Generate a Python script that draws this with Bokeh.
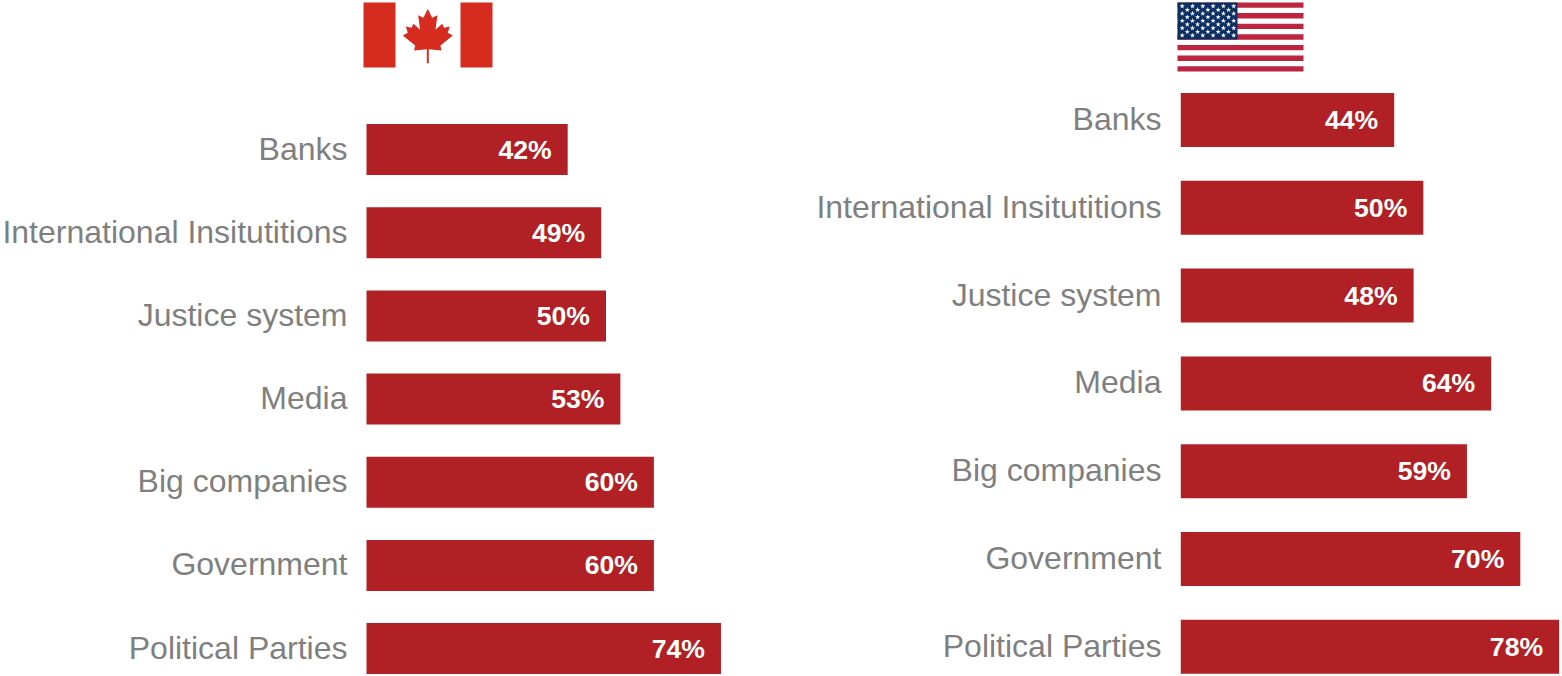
from bokeh.plotting import figure
from bokeh.layouts import row
from bokeh.models import Range1d, FixedTicker
from bokeh.core.properties import value
from bokeh.embed import file_html
from bokeh.resources import INLINE

categories = ["Banks", "International Insitutitions", "Justice system", "Media",
              "Big companies", "Government", "Political Parties"]
canada_values = [42, 49, 50, 53, 60, 60, 74]
usa_values = [44, 50, 48, 64, 59, 70, 78]

BAR = "#b02025"
GREY = "#7f7f7f"
FONT = "Liberation Sans"
PAGE_H = 676


def panel(values, fig_left, width, frame_left, zero_px, px_per_pct, first_cy, spacing, bar_px):
    x_start = (frame_left - zero_px) / px_per_pct
    x_end = (fig_left + width - zero_px) / px_per_pct
    y_top = (0 - first_cy) / spacing
    y_bottom = (PAGE_H - first_cy) / spacing
    p = figure(width=width, height=PAGE_H, output_backend="svg", toolbar_location=None,
               x_range=Range1d(x_start, x_end), y_range=Range1d(y_bottom, y_top),
               min_border_left=frame_left - fig_left, min_border_right=0,
               min_border_top=0, min_border_bottom=0, x_axis_location=None)
    p.outline_line_color = None
    p.background_fill_color = None
    p.border_fill_color = None
    p.xgrid.visible = False
    p.ygrid.visible = False
    ax = p.yaxis[0]
    nudge = -1.0 / spacing
    ticks = [i + nudge for i in range(len(categories))]
    ax.ticker = FixedTicker(ticks=ticks)
    ax.major_label_overrides = {t: c for t, c in zip(ticks, categories)}
    ax.axis_line_color = None
    ax.major_tick_line_color = None
    ax.minor_tick_line_color = None
    ax.major_tick_out = 0
    ax.major_label_standoff = 13
    ax.major_label_text_font = FONT
    ax.major_label_text_font_size = "32px"
    ax.major_label_text_color = GREY

    ys = list(range(len(categories)))
    p.hbar(y=ys, left=0, right=values, height=bar_px / spacing, color=BAR, line_color=None)
    p.text(x=values, y=ys, text=[f"{v}%" for v in values], text_align="right",
           text_baseline="middle", x_offset=-16, y_offset=0, text_color="white",
           text_font=value(FONT), text_font_style="bold", text_font_size="26.6px")

    to_x = lambda px: (px - zero_px) / px_per_pct
    to_y = lambda py: (py - first_cy) / spacing
    return p, to_x, to_y


def draw_canada(p, X, Y):
    red = "#d62b1f"
    for a, b in [(363, 395), (460, 492)]:
        p.quad(left=X(a), right=X(b), top=Y(2), bottom=Y(67), color=red, line_color=None)
    half = [(0, 25), (13, 52), (29, 44), (23, 88), (43, 70), (49, 82), (66, 78), (60, 97),
            (75, 105), (38, 135), (41, 150), (3, 146), (3, 188)]
    pts = half + [(-a, b) for a, b in reversed(half[1:])]
    p.patch([X(427.3 + a / 3) for a, _ in pts], [Y(b / 3) for _, b in pts],
            color=red, line_color=None)


def draw_usa(p, X, Y):
    red = "#bd2440"
    navy = "#0b2f63"
    left, right, top, h = 1177, 1303, 2, 69 / 13
    for i in range(0, 13, 2):
        p.quad(left=X(left), right=X(right), top=Y(top + i * h), bottom=Y(top + (i + 1) * h),
               color=red, line_color=None)
    p.quad(left=X(left), right=X(1237), top=Y(top), bottom=Y(39), color=navy, line_color=None)
    sx, sy = [], []
    for r in range(9):
        n = 6 if r % 2 == 0 else 5
        off = 0 if r % 2 == 0 else 5.1
        for c in range(n):
            sx.append(X(1181.7 + off + c * 10.3))
            sy.append(Y(5.7 + r * 3.65))
    p.scatter(sx, sy, marker="star", size=5.5, color="white", line_color=None)


left_p, lx, ly = panel(canada_values, -3, 783, 360, 366, 4.79, 149.1, 83.17, 51)
left_p.margin = (0, 0, 0, -3)
draw_canada(left_p, lx, ly)
right_p, rx, ry = panel(usa_values, 780, 782, 1174, 1180.3, 4.85, 119.5, 87.8, 54)
draw_usa(right_p, rx, ry)

page = row(left_p, right_p, spacing=0)
open("out.html", "w").write(file_html(page, INLINE))
